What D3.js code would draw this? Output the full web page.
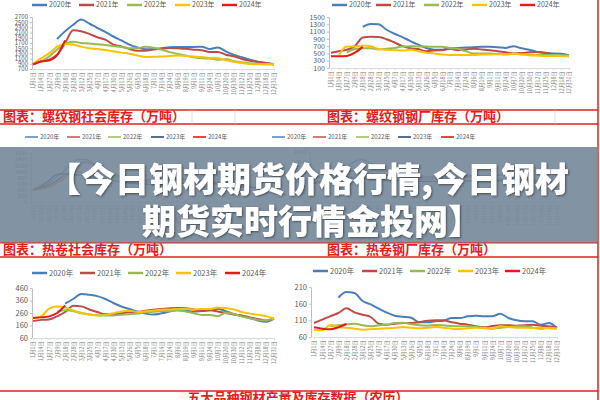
<!DOCTYPE html>
<html><head><meta charset="utf-8">
<script src="https://cdn.jsdelivr.net/npm/d3@7"></script>
<style>html,body{margin:0;padding:0;background:#fff;} svg{display:block;}</style>
</head><body>
<svg id="c" width="600" height="400"></svg>
<script>
// ---------- data ----------
const categories = ["1月1日","1月14日","1月27日","2月9日","2月18日","2月28日","3月12日","3月25日","4月7日","4月17日","4月30日","5月13日","5月26日","6月5日","6月18日","7月1日","7月14日","7月24日","8月6日","8月19日","9月1日","9月11日","9月24日","10月7日","10月20日","10月30日","11月12日","11月25日","12月8日","12月18日","12月31日"];
const years = ["2020年","2021年","2022年","2023年","2024年"];

// 螺纹钢社会库存
const rsoc2020 = [null,null,null,1850,2150,2400,2600,2450,2280,2130,1950,1800,1640,1530,1460,1470,1500,1540,1550,1550,1550,1560,1470,1530,1380,1250,1150,1060,980,930,890];
const rsoc2021 = [870,995,1060,1250,1700,2190,2150,2050,1920,1830,1640,1570,1470,1405,1405,1445,1480,1510,1495,1480,1445,1420,1355,1355,1250,1190,1085,1020,970,930,870];
const rsoc2022 = [null,980,1180,1450,1680,1750,1700,1680,1650,1620,1580,1550,1500,1500,1560,1520,1440,1350,1280,1220,1150,1110,1100,1060,1080,1000,960,920,900,880,880];
const rsoc2023 = [900,1110,1300,1560,1660,1640,1560,1500,1470,1430,1380,1330,1290,1220,1160,1170,1180,1200,1220,1200,1180,1160,1120,1110,1040,980,930,890,880,880,880];
const rsoc2024 = [880,990,1030,1230,1800];
const rsocTicks = [700,900,1100,1300,1500,1700,1900,2100,2300,2500,2700];

// 螺纹钢钢厂库存
const rmill2020 = [null,null,null,null,1230,1310,1300,1150,1040,950,840,740,650,600,600,640,650,660,670,680,680,670,650,700,640,600,540,510,500,490,450];
const rmill2021 = [520,560,600,700,940,960,950,890,800,700,640,620,560,580,590,630,590,610,630,610,590,560,530,500,510,530,540,520,470,440,420];
const rmill2022 = [null,null,520,620,640,640,610,630,650,690,700,690,690,680,680,650,630,560,500,500,500,490,480,490,480,470,460,460,460,450,440];
const rmill2023 = [null,460,690,690,720,700,620,600,590,580,600,560,520,500,470,460,460,460,460,470,470,480,470,490,470,450,440,430,430,430,420];
const rmill2024 = [420,420,430,520,680];
const rmillTicks = [100,300,500,700,900,1100,1300,1500];

// 热卷社会库存
const hsoc2020 = [null,null,null,null,335,372,412,405,395,372,340,312,292,272,255,248,258,272,285,280,270,275,282,295,275,250,235,220,200,190,215];
const hsoc2021 = [195,205,208,233,268,318,313,288,268,250,250,258,265,268,278,287,292,298,300,298,288,278,282,272,260,248,240,225,212,200,218];
const hsoc2022 = [null,null,null,270,282,275,258,250,242,240,240,245,250,255,265,270,275,276,280,272,258,245,245,235,262,252,232,218,205,200,215];
const hsoc2023 = [220,232,295,312,305,280,262,248,240,245,258,272,278,268,272,280,286,288,292,292,288,292,292,305,300,288,268,255,245,235,215];
const hsoc2024 = [220,225,233,260,320];
const hsocTicks = [60,160,260,360,460];

// 热卷钢厂库存
const hmill2020 = [null,null,null,178,195,192,168,158,145,133,124,121,118,104,104,107,109,117,117,122,124,122,122,130,117,110,107,107,97,102,87];
const hmill2021 = [102,112,122,132,146,134,127,120,100,97,100,102,102,104,109,110,110,104,100,97,92,89,93,95,95,94,95,97,94,92,88];
const hmill2022 = [null,null,92,95,98,100,95,92,95,97,102,103,98,95,94,96,95,93,92,92,90,88,85,88,90,92,92,88,85,88,86];
const hmill2023 = [82,80,96,90,88,85,82,83,85,86,88,90,88,86,88,90,88,85,84,86,88,86,85,92,90,88,88,87,88,86,85];
const hmill2024 = [89,85,83,89,99];
const hmillTicks = [60,110,160,210];

// faded middle charts
const mid1_2020 = [400,480,600,800,1000,1250,1400,1380,1250,1100,950,850,780,720,680,650,640,650,700,720,720,700,690,700,650,600,560,520,500,480,450];
const mid1_2021 = [380,430,480,600,750,1050,1280,1300,1200,1080,950,870,800,760,740,730,720,740,760,760,740,720,700,680,650,620,580,540,510,480,450];
const mid1_2022 = [null,400,480,650,850,1000,980,920,880,840,800,780,760,740,720,700,710,720,700,680,660,640,620,600,580,560,540,520,500,480,460];
const mid1_2023 = [400,520,680,880,920,900,880,850,800,760,720,680,640,610,590,580,560,560,580,600,620,640,650,640,600,560,520,500,480,460,450];
const mid1_2024 = [400,470,540,680,860];
const mid1Ticks = [0,200,400,600,800,1000,1200,1400,1600];

const mid2_2020 = [null,null,null,null,700,800,850,780,700,640,600,570,540,520,510,500,500,510,520,530,540,530,520,540,500,470,450,440,430,420,400];
const mid2_2021 = [400,420,450,520,600,620,600,580,560,540,520,510,500,500,490,480,480,490,500,500,490,480,470,460,450,440,430,420,410,400,390];
const mid2_2022 = [null,400,430,470,500,520,510,500,490,480,480,470,470,460,460,450,450,440,440,430,430,420,420,410,410,400,400,390,390,380,380];
const mid2_2023 = [380,400,440,480,500,480,470,460,450,440,430,430,420,420,410,410,400,400,410,420,430,440,440,430,420,410,400,390,380,380,370];
const mid2_2024 = [380,390,400,440,500];
const mid2Ticks = [0,200,400,600,800,1000];

const captions = ["图表：螺纹钢社会库存（万吨）","图表：螺纹钢钢厂库存（万吨）","图表：热卷社会库存（万吨）","图表：热卷钢厂库存（万吨）","五大品种钢材产量及库存数据（农历）"];
const titleLines = ["【今日钢材期货价格行情,今日钢材","期货实时行情金投网】"];

// ---------- drawing ----------
const FONT = "'Noto Sans CJK SC','Noto Sans',sans-serif";
const COLS = ["#4a7ebb","#be4b48","#98b954","#fbc200","#e8191b"];
const COLS_MID = ["#4f81bd","#c0504d","#9bbb59","#1f3d6b","#ff0000"];
const svg = d3.select("#c");
svg.append("rect").attr("width",600).attr("height",400).attr("fill","#fff");

function drawChart(o) {
  const g = svg.append("g");
  const x = d3.scalePoint().domain(categories).range([o.x0, o.x1]);
  const y = d3.scaleLinear().domain([o.ticks[0], o.ticks[o.ticks.length-1]]).range([o.yb, o.yt]);
  const ya = g.append("g").attr("transform",`translate(${o.ax},0)`)
    .call(d3.axisLeft(y).tickValues(o.ticks).tickFormat(d3.format("d")).tickSize(2).tickSizeOuter(0).tickPadding(2));
  ya.select(".domain").attr("stroke","#bfbfbf");
  ya.selectAll(".tick line").attr("stroke","#bfbfbf");
  ya.selectAll("text").attr("fill","#595959").style("font-size",o.yfs+"px").style("font-family",FONT);
  const xa = g.append("g").attr("transform",`translate(0,${o.yb})`)
    .call(d3.axisBottom(x).tickSize(2).tickSizeOuter(0));
  xa.select(".domain").attr("stroke","#d9d9d9");
  xa.selectAll(".tick line").attr("stroke","#d9d9d9");
  xa.selectAll("text").attr("transform","rotate(-90)").attr("text-anchor","end")
    .attr("x",-3).attr("y",0).attr("dy","0.35em")
    .attr("fill","#7f7f7f").style("font-size",o.xfs+"px").style("font-family",FONT);
  const line = d3.line().defined(d => d != null).x((d,i) => x(categories[i])).y(d => y(d)).curve(d3.curveMonotoneX);
  o.series.forEach((s,k) => {
    g.append("path").datum(s).attr("d",line).attr("fill","none")
      .attr("stroke",o.colors[k]).attr("stroke-width",o.sw).attr("stroke-linejoin","round");
  });
  const lg = g.append("g");
  years.forEach((yr,k) => {
    lg.append("line").attr("x1",o.lx[k]).attr("x2",o.lx[k]+o.ll).attr("y1",o.ly).attr("y2",o.ly)
      .attr("stroke",o.colors[k]).attr("stroke-width",o.lsw);
    lg.append("text").attr("x",o.lx[k]+o.ll+2).attr("y",o.ly).attr("dy","0.35em")
      .attr("fill","#595959").style("font-size",o.lfs+"px").style("font-family",FONT).text(yr);
  });
}

// top-left
drawChart({x0:33,x1:274,ax:32,yb:69,yt:17,ticks:rsocTicks,yfs:6,xfs:5.5,
  series:[rsoc2020,rsoc2021,rsoc2022,rsoc2023,rsoc2024],colors:COLS,sw:2,
  lx:[32,79,127,175,222],ly:5,ll:15,lfs:7,lsw:2.5});
// top-right
drawChart({x0:331,x1:569,ax:329,yb:68,yt:17,ticks:rmillTicks,yfs:7,xfs:5.5,
  series:[rmill2020,rmill2021,rmill2022,rmill2023,rmill2024],colors:COLS,sw:2,
  lx:[332,376,424,472,520],ly:5,ll:15,lfs:7,lsw:2.5});
// bottom-left
drawChart({x0:33,x1:274,ax:32,yb:338,yt:288,ticks:hsocTicks,yfs:7.5,xfs:5.5,
  series:[hsoc2020,hsoc2021,hsoc2022,hsoc2023,hsoc2024],colors:COLS,sw:2,
  lx:[32,80,128,176,225],ly:273,ll:15,lfs:7.5,lsw:2.5});
// bottom-right
drawChart({x0:314,x1:557,ax:311,yb:337,yt:287,ticks:hmillTicks,yfs:7.5,xfs:5.5,
  series:[hmill2020,hmill2021,hmill2022,hmill2023,hmill2024],colors:COLS,sw:2,
  lx:[313,362,410,458,505],ly:271,ll:15,lfs:7.5,lsw:2.5});
// middle (faded, behind banner)
drawChart({x0:33,x1:262,ax:31,yb:202,yt:153,ticks:mid1Ticks,yfs:5.5,xfs:5,
  series:[mid1_2020,mid1_2021,mid1_2022,mid1_2023,mid1_2024],colors:COLS_MID,sw:1.5,
  lx:[25,67,108,151,193],ly:137,ll:13,lfs:6,lsw:1.5});
drawChart({x0:313,x1:557,ax:310,yb:202,yt:152,ticks:mid2Ticks,yfs:5.5,xfs:5,
  series:[mid2_2020,mid2_2021,mid2_2022,mid2_2023,mid2_2024],colors:COLS_MID,sw:1.5,
  lx:[272,313,356,398,441],ly:137,ll:13,lfs:6,lsw:1.5});

// banner overlay
svg.append("rect").attr("x",0).attr("y",147).attr("width",597).attr("height",96)
  .attr("fill","#74889a").attr("opacity",0.9);

// caption rows and red frame lines
const RED = "#e0201c";
[[110,1.5],[124,1.5],[243,1],[257,1.5],[391,1.5]].forEach(([yy,w]) => {
  svg.append("line").attr("x1",0).attr("x2",598).attr("y1",yy).attr("y2",yy).attr("stroke",RED).attr("stroke-width",w);
});
svg.append("line").attr("x1",598).attr("x2",598).attr("y1",0).attr("y2",400).attr("stroke",RED).attr("stroke-width",1.5);
[192,235,555].forEach(xx => {
  svg.append("line").attr("x1",xx).attr("x2",xx).attr("y1",110).attr("y2",124).attr("stroke","#d0d0d0").attr("stroke-width",0.7);
});
const capPos = [[3,121,"start"],[327,121,"start"],[3,254,"start"],[327,254,"start"],[298,402,"middle"]];
captions.forEach((c,i) => {
  svg.append("text").attr("x",capPos[i][0]).attr("y",capPos[i][1]).attr("text-anchor",capPos[i][2])
    .attr("fill",RED).style("font-size","13px").style("font-weight","bold").style("font-family",FONT).text(c);
});

// title with shadow
const defs = svg.append("defs");
const f = defs.append("filter").attr("id","sh").attr("x","-10%").attr("y","-20%").attr("width","120%").attr("height","140%");
f.append("feDropShadow").attr("dx",1).attr("dy",1).attr("stdDeviation",1.2).attr("flood-color","#222").attr("flood-opacity",0.6);
const titlePos = [[47,192],[142,234]];
titleLines.forEach((t,i) => {
  svg.append("text").attr("x",titlePos[i][0]).attr("y",titlePos[i][1]).attr("fill","#fff")
    .attr("filter","url(#sh)").style("font-size","34px").style("font-weight","900").style("font-family",FONT).text(t);
});
</script>
</body></html>
